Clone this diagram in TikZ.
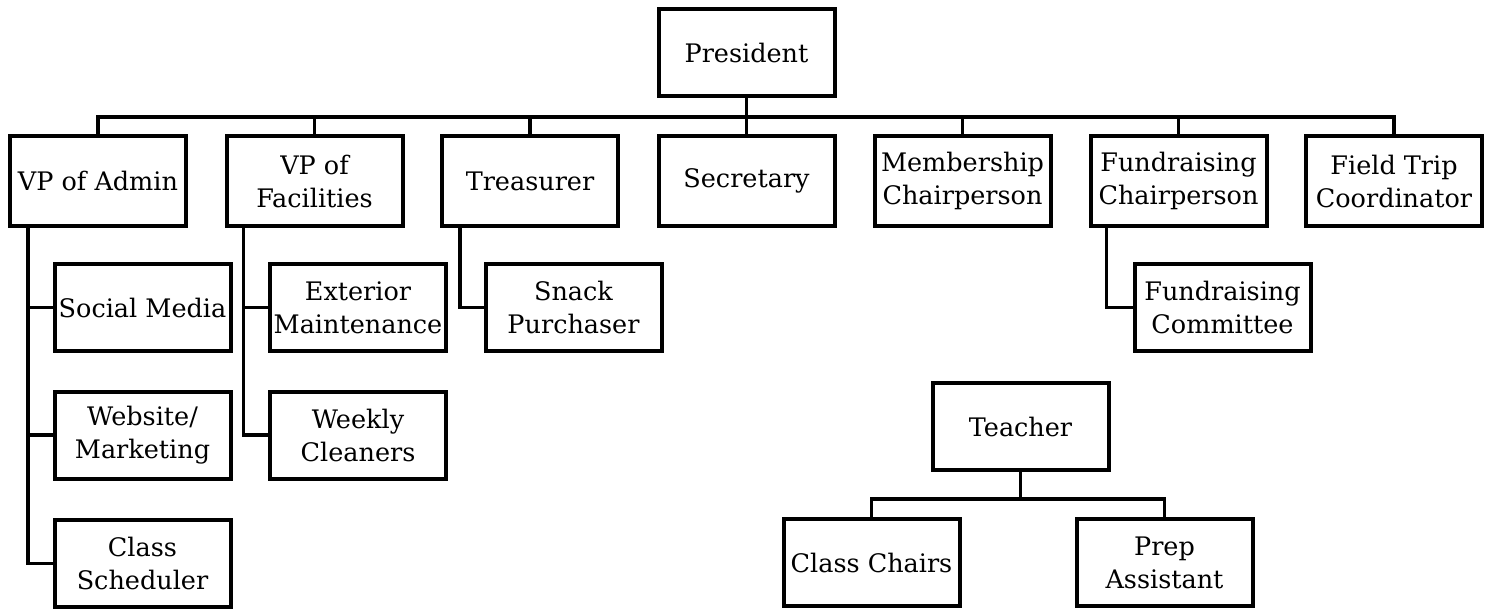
\documentclass[tikz,border=0pt]{standalone}
\usepackage{fontspec}
\setmainfont{DejaVu Serif}
\begin{document}
\begin{tikzpicture}[x=1pt,y=-1pt,
  box/.style={draw,line width=4pt,minimum width=176pt,minimum height=87pt,inner sep=0pt,align=center,
    font=\fontsize{25.5pt}{33pt}\selectfont},
  rowbox/.style={box,minimum height=90pt},
  conn/.style={line width=3.6pt,line join=miter}]
\useasboundingbox (0,0) rectangle (1498,611);
% nodes
\node[box] (pres) at (746.5,52.5) {President};
\node[rowbox] (vpadmin) at (98,181) {VP of Admin};
\node[rowbox] (vpfac) at (314.5,181) {VP of\\Facilities};
\node[rowbox] (treas) at (530,181) {Treasurer};
\node[rowbox] (secr) at (746.5,181) {Secretary};
\node[rowbox] (memb) at (962.5,181) {Membership\\Chairperson};
\node[rowbox] (fund) at (1178.5,181) {Fundraising\\Chairperson};
\node[rowbox] (field) at (1394,181) {Field Trip\\Coordinator};
\node[box] (social) at (142.5,307.5) {Social Media};
\node[box] (web) at (142.5,435) {Website/\\Marketing};
\node[box] (sched) at (142.5,563.5) {Class\\Scheduler};
\node[box] (ext) at (358,307.5) {Exterior\\Maintenance};
\node[box] (weekly) at (358,435) {Weekly\\Cleaners};
\node[box] (snack) at (573.5,307.5) {Snack\\Purchaser};
\node[box] (fcomm) at (1222.5,307.5) {Fundraising\\Committee};
\node[box] (teacher) at (1020.5,426.5) {Teacher};
\node[box] (chairs) at (871.5,562.5) {Class Chairs};
\node[box] (prep) at (1164.5,562.5) {Prep\\Assistant};
% connectors: top level
\draw[conn] (pres.south) -- ++(0,19) coordinate (bus);
\foreach \c in {vpadmin,vpfac,treas,secr,memb,fund,field}
  \draw[conn] (\c.north) |- (bus);
% side branches
\coordinate (a0) at ([xshift=20pt]vpadmin.south west);
\foreach \c in {social,web,sched}
  \draw[conn] (a0) |- (\c.west);
\coordinate (f0) at ([xshift=19pt]vpfac.south west);
\foreach \c in {ext,weekly}
  \draw[conn] (f0) |- (\c.west);
\coordinate (t0) at ([xshift=20pt]treas.south west);
\draw[conn] (t0) |- (snack.west);
\coordinate (u0) at ([xshift=18pt]fund.south west);
\draw[conn] (u0) |- (fcomm.west);
% teacher
\draw[conn] (teacher.south) -- ++(0,27) coordinate (tbus);
\foreach \c in {chairs,prep}
  \draw[conn] (\c.north) |- (tbus);
\end{tikzpicture}
\end{document}
